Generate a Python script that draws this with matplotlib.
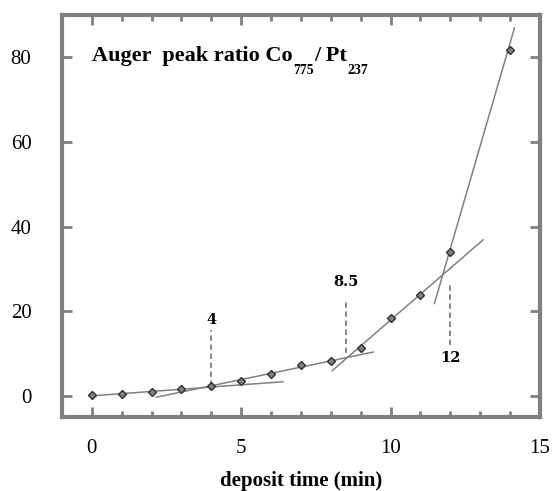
import numpy as np
import matplotlib.pyplot as plt
from matplotlib.ticker import MultipleLocator

# measured Auger peak ratio vs deposit time
t = [0, 1, 2, 3, 4, 5, 6, 7, 8, 9, 10, 11, 12, 14]
ratio = [0.1, 0.4, 0.9, 1.6, 2.3, 3.6, 5.2, 7.3, 8.3, 11.4, 18.4, 23.8, 34.1, 81.8]

# hand-drawn linear segments: (x start, x end, slope, intercept)
fits = [
    (0.0, 6.4, 0.52, 0.0),
    (2.16, 9.42, 1.47, -3.5),
    (8.05, 13.1, 6.12, -43.3),
    (11.47, 14.15, 24.3, -256.9),
]

# break points marked with dashed lines: (x, y bottom, y top, label y)
breaks = [(4, 2.3, 15.6, 18.0, "4"),
          (8.5, 10.1, 22.6, 26.8, "8.5"),
          (12, 12.0, 26.6, 9.0, "12")]

plt.rcParams['font.family'] = 'Liberation Serif'

gray = '#808080'
fig = plt.figure(figsize=(5.52, 4.91), dpi=100)
ax = fig.add_axes([0.1123, 0.1507, 0.8657, 0.8188])

for x0, x1, m, b in fits:
    xs = np.array([x0, x1])
    ax.plot(xs, m * xs + b, color=gray, lw=1.1, zorder=2)

for x, y0, y1, ly, lab in breaks:
    ax.plot([x, x], [y0, y1], color=gray, lw=1.3, ls=(0, (3, 2)), zorder=2)
    ax.text(x, ly, lab, fontsize=10.5, fontweight='bold', family='DejaVu Serif',
            ha='center', va='center')

ax.plot(t, ratio, ls='none', marker='D', ms=4, mfc=gray, mec='#303030',
        mew=1.0, zorder=3)

# title with big dropped subscripts, built piece by piece
main = ax.text(0, 79.2, "Auger  peak ratio Co", fontsize=16,
               fontweight='bold', ha='left', va='baseline')
sub1 = ax.annotate("775", xy=(1, 0), xycoords=main, xytext=(0.5, -8.5),
                   textcoords='offset points', fontsize=10, fontweight='bold',
                   va='bottom', ha='left')
mid = ax.annotate("/ Pt", xy=(1, 0), xycoords=(sub1, main), xytext=(0, 0),
                  textcoords='offset points', fontsize=16, fontweight='bold',
                  va='bottom', ha='left')
ax.annotate("237", xy=(1, 0), xycoords=mid, xytext=(0.5, -8.5),
            textcoords='offset points', fontsize=10, fontweight='bold',
            va='bottom', ha='left')

ax.set_xlim(-1, 15)
ax.set_ylim(-5, 90)
ax.xaxis.set_major_locator(MultipleLocator(5))
ax.xaxis.set_minor_locator(MultipleLocator(1))
ax.yaxis.set_major_locator(MultipleLocator(20))

for s in ax.spines.values():
    s.set_color(gray)
    s.set_linewidth(3)
ax.tick_params(which='both', direction='in', top=True, right=True, color=gray,
               width=2)
ax.tick_params(which='major', length=7, labelsize=15)
ax.tick_params(which='minor', length=4.5)
ax.tick_params(axis='y', pad=22)
ax.tick_params(axis='x', pad=16)

ax.set_xlabel("deposit time (min)", fontsize=15, fontweight='bold', labelpad=9)

fig.savefig('out.png', dpi=100)
